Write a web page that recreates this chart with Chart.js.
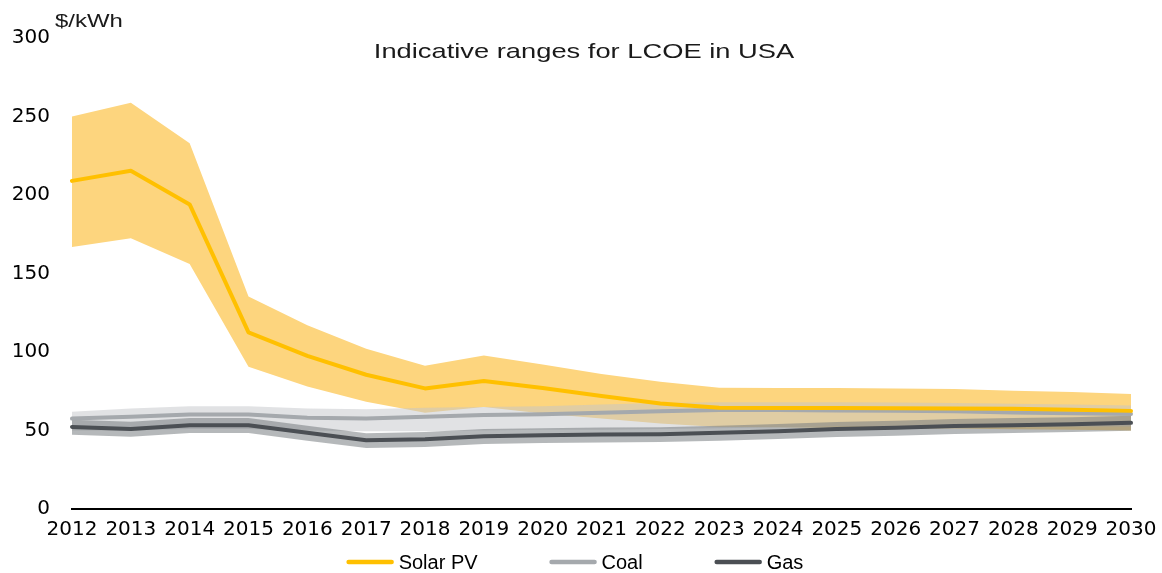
<!DOCTYPE html>
<html>
<head>
<meta charset="utf-8">
<script src="https://cdn.jsdelivr.net/npm/chart.js@4.4.1/dist/chart.umd.min.js"></script>
<style>
  html, body { margin: 0; padding: 0; background: #fff; }
  canvas { display: block; }
</style>
</head>
<body>
<canvas id="lcoe" width="1162" height="573"></canvas>
<script>
const years = ['2012', '2013', '2014', '2015', '2016', '2017', '2018', '2019', '2020', '2021',
  '2022', '2023', '2024', '2025', '2026', '2027', '2028', '2029', '2030'];

// $/kWh
const solarMid = [209, 215.5, 194, 112.5, 97.5, 85.5, 76.8, 81.5, 77, 72, 67.2, 64.5, 64.4, 64.3, 64.2, 64, 63.8, 63.2, 62.5];
const solarHigh = [250, 258.7, 233, 135.3, 117, 102, 91.3, 97.7, 92, 86, 81, 77.2, 77, 77, 76.8, 76.5, 75.3, 74.5, 73.2];
const solarLow = [166.8, 172.5, 156, 90.6, 78, 68.3, 61.3, 65, 60.8, 57.6, 54.4, 52.3, 52, 51.8, 51.5, 51.2, 50.8, 50.4, 50];

const coalMid = [57.6, 58.7, 60.2, 60.2, 58.1, 57.6, 58.7, 59.8, 60.4, 61.3, 62.3, 63, 63, 62.8, 62.5, 62.2, 61.5, 61, 60.5];
const coalHigh = [62, 64, 65.5, 65.5, 64, 63.5, 64.5, 65, 65.5, 66.5, 67.5, 68, 68, 68, 67.8, 67.5, 67, 66.5, 66];
const coalLow = [50, 50, 51, 51, 50, 49.5, 49.5, 50, 50.5, 50.5, 51, 51.5, 52, 52.5, 52.5, 52.5, 52.5, 52.5, 52.5];

const gasMid = [52.3, 51, 53.4, 53.4, 48.5, 43.8, 44.5, 46.4, 47, 47.4, 47.6, 48.5, 49.6, 50.9, 51.7, 52.8, 53.4, 54, 54.9];
const gasHigh = [56.8, 55.5, 57.9, 57.9, 53, 48.3, 49, 50.9, 51.5, 51.9, 52.1, 53, 54.1, 55.4, 56.2, 57.3, 57.9, 58.5, 59.4];
const gasLow = [47.3, 46, 48.4, 48.4, 43.5, 38.8, 39.5, 41.4, 42, 42.4, 42.6, 43.5, 44.6, 45.9, 46.7, 47.8, 48.4, 49, 49.9];

const seriesNames = ['Solar PV', 'Coal', 'Gas'];
const lineColors = ['#FFC000', '#A5A9AD', '#4B4F54'];
const yTicks = [0, 50, 100, 150, 200, 250, 300];

const chartTitle = 'Indicative ranges for LCOE in USA';
const unitLabel = '$/kWh';
const ARIAL = "'Liberation Sans', Arial, sans-serif";
const WIDE = "'DejaVu Sans', Verdana, sans-serif";

const hidden = 'rgba(0,0,0,0)';

function rangeBand(name, high, low, color, order) {
  return [
    { label: name + ' high', data: high, fill: '+1', backgroundColor: color, borderColor: hidden,
      borderWidth: 0, pointRadius: 0, order: order },
    { label: name + ' low', data: low, fill: false, backgroundColor: hidden, borderColor: hidden,
      borderWidth: 0, pointRadius: 0, order: order }
  ];
}

function mainLine(i, data, order) {
  return {
    label: seriesNames[i], data: data, borderColor: lineColors[i], backgroundColor: lineColors[i],
    borderWidth: 4, pointRadius: 0, fill: false, tension: 0,
    borderCapStyle: 'round', borderJoinStyle: 'round', order: order
  };
}

// the source text is stretched sideways, so draw it scaled
function wideText(ctx, text, x, y, font, sx) {
  ctx.save();
  ctx.font = font;
  ctx.translate(x, y);
  ctx.scale(sx, 1);
  ctx.fillText(text, 0, 0);
  ctx.restore();
}

// title, unit and legend are placed where the source has them (title sits inside the plot)
const extras = {
  id: 'extras',
  afterDraw(chart) {
    const ctx = chart.ctx;
    ctx.save();
    ctx.fillStyle = '#1a1a1a';
    ctx.textBaseline = 'alphabetic';
    ctx.textAlign = 'center';
    wideText(ctx, chartTitle, 584, 58, '21px ' + ARIAL, 1.3);
    ctx.textAlign = 'left';
    wideText(ctx, unitLabel, 55, 27, '18px ' + ARIAL, 1.33);

    // legend
    ctx.font = '20px ' + ARIAL;
    ctx.textBaseline = 'middle';
    const sample = 47, gap = 5, between = 72, y = 562;
    const widths = seriesNames.map(n => sample + gap + ctx.measureText(n).width);
    const total = widths.reduce((a, b) => a + b, 0) + between * (widths.length - 1);
    let x = 575 - total / 2;
    seriesNames.forEach((n, i) => {
      ctx.strokeStyle = lineColors[i];
      ctx.lineWidth = 4.5;
      ctx.lineCap = 'round';
      ctx.beginPath();
      ctx.moveTo(x + 2, y);
      ctx.lineTo(x + sample - 2, y);
      ctx.stroke();
      ctx.fillStyle = '#000';
      ctx.fillText(n, x + sample + gap, y + 1);
      x += widths[i] + between;
    });
    ctx.restore();
  }
};

const ctx = document.getElementById('lcoe').getContext('2d');
const chart = new Chart(ctx, {
  type: 'line',
  data: {
    labels: years,
    datasets: [
      mainLine(0, solarMid, 1),
      mainLine(1, coalMid, 3),
      mainLine(2, gasMid, 2),
      ...rangeBand('Solar PV', solarHigh, solarLow, '#FDD57E', 10),
      ...rangeBand('Coal', coalHigh, coalLow, 'rgba(195,198,202,0.5)', 9),
      ...rangeBand('Gas', gasHigh, gasLow, 'rgba(120,126,130,0.55)', 8)
    ]
  },
  options: {
    responsive: false,
    animation: false,
    events: [],
    layout: { padding: { left: 12, right: 31, top: 38, bottom: 22 } },
    plugins: {
      legend: { display: false },
      title: { display: false },
      tooltip: { enabled: false }
    },
    scales: {
      x: {
        offset: false,
        grid: { display: false, drawTicks: false },
        border: { display: true, color: '#000', width: 2 },
        ticks: { color: '#000', font: { family: WIDE, size: 20 }, padding: 9, maxRotation: 0, autoSkip: false },
        afterFit: axis => { axis.paddingRight = 0; axis.paddingLeft = 0; }
      },
      y: {
        min: yTicks[0],
        max: yTicks[yTicks.length - 1],
        afterBuildTicks: axis => { axis.ticks = yTicks.map(v => ({ value: v })); },
        afterFit: axis => { axis.width = 60; },
        grid: { display: false, drawTicks: false },
        border: { display: false },
        ticks: { color: '#000', font: { family: WIDE, size: 20 }, padding: 22 }
      }
    }
  },
  plugins: [extras]
});
</script>
</body>
</html>
